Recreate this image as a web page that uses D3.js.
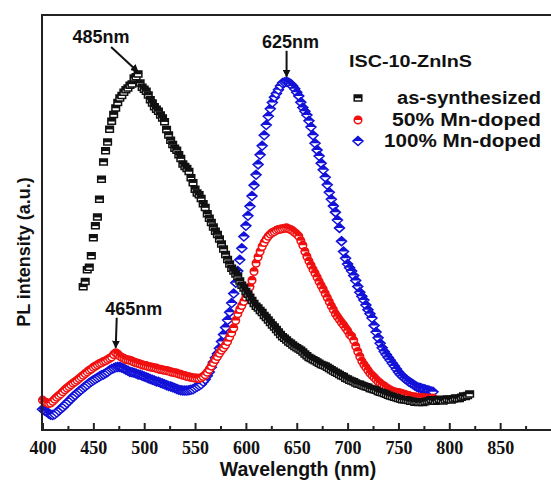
<!DOCTYPE html>
<html>
<head>
<meta charset="utf-8">
<script src="https://cdn.jsdelivr.net/npm/d3@7"></script>
<style>
  body { margin: 0; background: #fff; }
  svg { display: block; }
  .lbl { font-family: "Liberation Sans", Arial, sans-serif; font-weight: bold; fill: #111; }
</style>
</head>
<body>
<svg id="chart" width="551" height="480"></svg>
<script>
// PL spectra of ISC-10-ZnInS, sampled every 2 nm
const startSynth = 440, startDoped = 400, stepNm = 2;

const asSynthesized = [
  34.5,35.8,38.6,39.2,42.0,46.3,49.2,51.3,55.6,60.4,64.6,67.3,69.4,72.5,74.4,76.0,77.6,78.9,80.0,80.6,
  81.4,82.0,82.4,83.1,83.4,84.8,85.1,85.8,83.6,82.6,82.1,81.6,80.7,79.6,78.8,77.9,77.3,76.8,75.9,75.2,
  74.3,72.4,71.1,69.8,68.8,67.9,67.4,66.3,65.4,64.1,63.5,63.0,62.3,60.8,59.6,58.0,57.1,56.7,55.8,54.5,
  53.6,52.1,51.0,50.0,48.9,47.9,47.1,46.0,44.8,43.6,42.3,41.1,40.0,39.0,38.3,37.6,37.0,35.9,34.9,34.2,
  33.4,32.7,32.0,31.2,30.5,29.8,29.4,28.8,28.3,27.6,27.1,26.5,25.9,25.3,24.8,24.2,23.6,23.0,22.5,22.1,
  21.7,21.2,20.9,20.5,20.1,19.8,19.5,19.2,18.8,18.3,17.9,17.5,17.2,16.9,16.7,16.4,16.1,15.8,15.6,15.4,
  15.1,14.8,14.5,14.2,13.9,13.7,13.4,13.1,12.9,12.5,12.3,12.0,11.8,11.6,11.3,11.1,11.0,10.8,10.6,10.4,
  10.3,10.0,9.9,9.7,9.6,9.3,9.1,9.0,8.8,8.6,8.4,8.2,8.1,7.9,7.8,7.6,7.5,7.3,7.3,7.2,
  7.1,6.9,6.9,6.7,6.8,6.6,6.7,6.6,6.8,6.9,7.0,7.3,7.2,6.9,7.1,7.4,7.3,7.0,7.2,7.5,
  7.4,7.2,7.5,7.7,7.6,7.6,7.9,8.2,8.1,8.3,8.7
];

const mn50 = [
  7.2,6.8,6.6,6.4,6.5,6.9,7.4,7.9,8.3,8.7,9.2,9.7,10.1,10.5,10.9,11.3,11.6,12.0,12.4,12.8,
  13.2,13.6,14.0,14.4,14.7,15.1,15.4,15.7,16.0,16.2,16.5,16.7,17.0,17.3,17.6,18.2,18.6,18.3,17.8,17.5,
  17.3,17.0,16.9,16.8,16.6,16.4,16.2,16.1,15.9,15.7,15.6,15.5,15.3,15.2,15.1,15.0,14.9,14.7,14.6,14.5,
  14.4,14.3,14.2,14.0,13.9,13.8,13.7,13.5,13.4,13.2,13.1,12.9,12.8,12.7,12.6,12.5,12.5,12.4,12.6,12.9,
  13.3,13.9,14.6,15.4,16.2,17.0,17.7,18.5,19.2,19.8,20.5,21.3,22.4,23.4,24.6,26.4,28.0,29.1,30.0,31.0,
  32.0,33.0,34.5,36.1,38.2,40.2,41.7,43.0,44.2,45.2,46.0,46.7,47.2,47.6,47.8,48.1,48.3,48.4,48.5,48.6,
  48.7,48.5,48.3,48.0,47.6,47.2,46.7,45.6,44.5,43.0,41.8,40.7,39.7,38.7,37.8,36.8,35.8,34.8,33.9,32.9,
  31.9,30.9,29.9,29.0,28.0,27.3,26.6,25.9,25.3,24.6,23.9,23.0,22.6,21.6,20.2,18.9,17.7,16.6,15.8,15.1,
  14.4,13.7,13.2,12.7,12.2,11.7,11.3,10.9,10.6,10.2,9.9,9.6,9.4,9.2,9.1,9.0,8.9,8.7,8.6,8.4,
  8.3,8.1,8.0,8.0,7.9,7.9,7.8,7.8,7.7,7.7,7.7,7.6,7.7
];

const mn100 = [
  5.0,4.7,4.4,4.0,3.7,3.6,3.8,4.2,4.7,5.1,5.5,6.0,6.5,7.0,7.5,8.0,8.4,8.9,9.3,9.7,
  10.1,10.5,10.9,11.3,11.7,12.0,12.3,12.6,12.9,13.2,13.4,13.7,14.0,14.4,14.7,14.9,15.1,15.2,15.2,15.0,
  14.8,14.5,14.3,14.0,13.9,13.8,13.6,13.4,13.3,13.1,12.9,12.7,12.5,12.3,12.1,11.9,11.7,11.6,11.4,11.2,
  11.0,10.8,10.6,10.5,10.3,10.1,9.9,9.7,9.6,9.5,9.5,9.5,9.6,9.7,9.8,10.1,10.4,10.7,11.0,11.6,
  12.2,13.1,14.0,15.1,16.3,17.4,18.4,19.7,21.3,23.0,24.7,26.5,28.4,30.6,32.9,35.5,38.3,41.0,43.8,46.6,
  49.2,51.6,53.9,56.4,59.0,61.5,64.0,66.3,68.5,71.0,73.5,75.6,77.4,78.9,80.2,81.1,82.0,82.9,83.6,83.8,
  83.9,83.7,83.4,82.9,82.2,81.4,80.5,79.0,77.7,76.8,75.9,74.5,73.0,71.0,69.1,67.5,66.0,64.3,62.7,60.9,
  59.1,57.3,55.6,54.0,52.5,50.6,48.7,45.5,43.0,41.4,40.0,39.1,38.3,37.2,36.0,34.6,33.2,32.2,31.3,30.1,
  29.0,28.0,27.0,25.2,23.6,22.2,20.9,19.8,18.9,18.2,17.5,16.8,16.1,15.4,14.7,14.0,13.4,12.9,12.5,12.1,
  11.7,11.4,11.1,10.7,10.4,10.2,10.1,9.9,9.8,9.6,9.5,9.3,9.2
];

const seriesNames = ["as-synthesized", "50% Mn-doped", "100% Mn-doped"];
const majorTicks = [400, 450, 500, 550, 600, 650, 700, 750, 800, 850];
const minorTicks = [425, 475, 525, 575, 625, 675, 725, 775, 825, 875];
const peakLabels = ["485nm", "625nm", "465nm"];
const legendTitle = "ISC-10-ZnInS";

const W = 551, H = 480;
const margin = { left: 42, top: 15, bottom: 50 };
const svg = d3.select("#chart");

const x = d3.scaleLinear().domain([400, 900]).range([42.5, W]);
const y = d3.scaleLinear().domain([0, 100]).range([H - margin.bottom, margin.top]);

const toPoints = (vals, start) => vals.map((v, i) => ({ w: start + i * stepNm, v }));
const black = toPoints(asSynthesized, startSynth);
const red = toPoints(mn50, startDoped);
const blue = toPoints(mn100, startDoped);

const colors = { black: "#111111", red: "#f01010", blue: "#1212d8" };

// half-filled marker shapes: outline with white fill plus a solid top half
const shapes = {
  square: { outline: "M-3.8,-3H3.8V3H-3.8Z", top: "M-3.8,-3H3.8V0.3H-3.8Z" },
  circle: { outline: "M-3.8,0A3.8,3.8 0 1,1 3.8,0A3.8,3.8 0 1,1 -3.8,0Z", top: "M-3.8,0A3.8,3.8 0 0,1 3.8,0Z" },
  diamond: { outline: "M0,-4.5L5,0L0,4.5L-5,0Z", top: "M0,-4.5L5,0L-5,0Z" }
};

function drawMarker(g, shape, color) {
  g.append("path").attr("d", shapes[shape].outline)
    .attr("fill", "#fff").attr("stroke", color).attr("stroke-width", 1.5);
  g.append("path").attr("d", shapes[shape].top).attr("fill", color);
}

function drawSeries(data, shape, color) {
  const layer = svg.append("g");
  layer.selectAll("g").data(data).join("g")
    .attr("transform", d => `translate(${x(d.w)},${y(d.v)})`)
    .each(function () { drawMarker(d3.select(this), shape, color); });
}

drawSeries(blue, "diamond", colors.blue);
drawSeries(red, "circle", colors.red);
drawSeries(black, "square", colors.black);

// frame: left, top and bottom lines
const frame = svg.append("g").attr("stroke", "#222").attr("stroke-width", 2).attr("fill", "none");
frame.append("line").attr("x1", 42).attr("x2", 42).attr("y1", margin.top).attr("y2", y(0) + 1);
frame.append("line").attr("x1", 41).attr("x2", W).attr("y1", margin.top).attr("y2", margin.top);

const axisG = svg.append("g").attr("transform", `translate(0,${y(0)})`);
axisG.call(d3.axisBottom(x).tickValues(majorTicks).tickSize(-7).tickPadding(11).tickFormat(d3.format("d")));
axisG.select(".domain").remove();
axisG.selectAll(".tick line").attr("stroke", "#222").attr("stroke-width", 2);
axisG.selectAll(".tick text")
  .style("font-family", "'Liberation Serif', 'Times New Roman', serif")
  .style("font-weight", "bold").style("font-size", "18px").style("fill", "#111");

const minorG = svg.append("g").attr("transform", `translate(0,${y(0)})`);
minorG.call(d3.axisBottom(x).tickValues(minorTicks).tickSize(-4).tickFormat(""));
minorG.select(".domain").remove();
minorG.selectAll(".tick line").attr("stroke", "#222").attr("stroke-width", 2);

svg.append("line").attr("x1", 41).attr("x2", W).attr("y1", y(0)).attr("y2", y(0))
  .attr("stroke", "#222").attr("stroke-width", 2);

// axis titles
svg.append("text").attr("class", "lbl").attr("x", 298).attr("y", 476)
  .attr("text-anchor", "middle").attr("font-size", 19.5).text("Wavelength (nm)");
svg.append("text").attr("class", "lbl").attr("transform", "translate(30,252) rotate(-90)")
  .attr("text-anchor", "middle").attr("font-size", 18).text("PL intensity (a.u.)");

// peak annotations, anchored to the data maxima
function peakOf(data, lo, hi) {
  return data.filter(d => d.w >= lo && d.w <= hi).reduce((a, b) => (b.v > a.v ? b : a));
}
const pBlack = peakOf(black, 440, 560);
const pBlue = peakOf(blue, 580, 720);
const pRed = peakOf(red, 440, 520);

const ann = svg.append("g");
ann.append("defs").append("marker").attr("id", "ah").attr("viewBox", "0 0 10 10")
  .attr("refX", 9).attr("refY", 5).attr("markerWidth", 4).attr("markerHeight", 4).attr("orient", "auto")
  .append("path").attr("d", "M0,0L10,5L0,10Z").attr("fill", "#111");

function annotate(p, text, dx0, dy0, tx, ty, tipDy) {
  const px = x(p.w), py = y(p.v) - tipDy;
  ann.append("line").attr("x1", px + dx0).attr("y1", py + dy0).attr("x2", px).attr("y2", py)
    .attr("stroke", "#111").attr("stroke-width", 2).attr("marker-end", "url(#ah)");
  ann.append("text").attr("class", "lbl").attr("x", px + tx).attr("y", py + ty)
    .attr("text-anchor", "middle").attr("font-size", 18).text(text);
}
annotate(pBlack, peakLabels[0], -27, -25, -37, -29, 2);
annotate(pBlue, peakLabels[1], 0, -26, 4, -29, 5);
annotate(pRed, peakLabels[2], 1, -30, 18, -33, 5);

// legend
const lg = svg.append("g");
lg.append("text").attr("class", "lbl").attr("x", 349).attr("y", 67).attr("font-size", 17)
  .attr("textLength", 123).attr("lengthAdjust", "spacingAndGlyphs").text(legendTitle);
const legendShapes = ["square", "circle", "diamond"];
const legendColors = [colors.black, colors.red, colors.blue];
const legendWidths = [144, 149, 157];
const rowY = [98, 120, 141];
seriesNames.forEach((name, i) => {
  const g = lg.append("g").attr("transform", `translate(358,${rowY[i]})`);
  drawMarker(g, legendShapes[i], legendColors[i]);
  lg.append("text").attr("class", "lbl").attr("x", 541).attr("y", rowY[i] + 6)
    .attr("text-anchor", "end").attr("font-size", 18)
    .attr("textLength", legendWidths[i]).attr("lengthAdjust", "spacingAndGlyphs").text(name);
});
</script>
</body>
</html>
